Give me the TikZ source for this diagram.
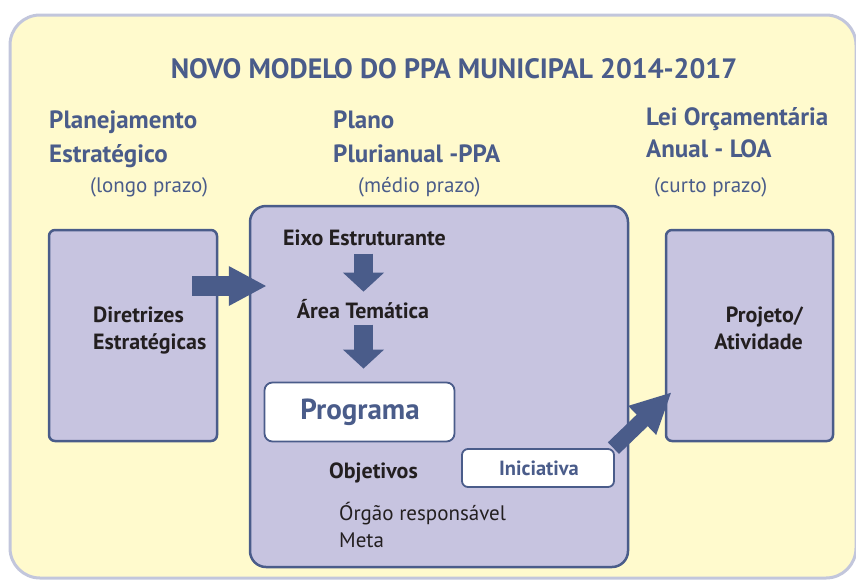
\documentclass[tikz,border=0pt]{standalone}
\usepackage{fontspec}
\setmainfont{PT Sans}
\usetikzlibrary{arrows.meta,calc,positioning}
\definecolor{azul}{HTML}{4A5C8A}
\definecolor{lilas}{HTML}{C7C4E0}
\definecolor{amarelo}{HTML}{FFFACD}
\definecolor{borda}{HTML}{C2C6DC}
\definecolor{preto}{HTML}{231F20}
\tikzstyle{caixa}=[draw=azul, line width=2.5pt, fill=lilas, rounded corners=6pt, inner sep=0pt]
\tikzstyle{caixabranca}=[draw=azul, line width=1.8pt, fill=white, rounded corners=8pt, inner sep=0pt]
\tikzstyle{cabecalho}=[text=azul, font=\bfseries\fontsize{25}{34}\selectfont, align=left, anchor=base west, inner sep=0pt]
\tikzstyle{prazo}=[text=azul, font=\fontsize{21}{24}\selectfont, anchor=base west, inner sep=0pt]
\tikzstyle{item}=[text=preto, font=\bfseries\fontsize{22}{27}\selectfont, anchor=base, inner sep=0pt]
\tikzstyle{setalarga}=[draw=azul, line width=20pt, -{Triangle[width=37pt,length=38pt]}]
\tikzstyle{setabaixo}=[draw=azul, line width=19pt, -{Triangle[width=40pt,length=19pt]}]
\tikzstyle{setadiag}=[draw=azul, line width=16pt, -{Triangle[width=37pt,length=41pt]}]

\begin{document}
\begin{tikzpicture}[x=1pt,y=-1pt]
  \useasboundingbox (0,0) rectangle (856,579);

  % fundo amarelo
  \path[fill=amarelo, draw=borda, line width=3pt, rounded corners=30pt]
    (10,15) rectangle (856,578);

  % titulo e cabecalhos das colunas
  \node (TITULO) [text=azul, font=\bfseries\fontsize{28}{34}\selectfont, anchor=base, inner sep=0pt]
    at (454,78) {NOVO MODELO DO PPA MUNICIPAL 2014-2017};
  \node (PLANEJ) [cabecalho] at (49,128) {Planejamento};
  \node (PLANEJ2) [cabecalho] at (49,162) {Estratégico};
  \node (LONGO) [prazo] at (90,192) {(longo prazo)};
  \node (PLANO) [cabecalho] at (333,128) {Plano};
  \node (PLANO2) [cabecalho] at (333,162) {Plurianual -PPA};
  \node (MEDIO) [prazo] at (358,192) {(médio prazo)};
  \node (LEI) [cabecalho] at (646,125) {Lei Orçamentária};
  \node (LEI2) [cabecalho] at (646,157) {Anual - LOA};
  \node (CURTO) [prazo] at (654,192) {(curto prazo)};

  % caixas das colunas
  \node (DIRETRIZES) [caixa, minimum width=168pt, minimum height=211pt] at (133,335.5) {};
  \node (PPA) [caixa, rounded corners=16pt, minimum width=378pt, minimum height=361pt] at (439,386.5) {};
  \node (LOA) [caixa, minimum width=167pt, minimum height=211pt] at (749.5,335.5) {};

  % textos das caixas laterais
  \node (DIR1) [item, anchor=base west] at (93,322) {Diretrizes};
  \node (DIR2) [item, anchor=base west] at (93,349) {Estratégicas};
  \node (PROJ1) [item, anchor=base east] at (803,322) {Projeto/};
  \node (PROJ2) [item, anchor=base east] at (803,349) {Atividade};

  % conteudo do PPA
  \node (EIXO) [item] at (364.5,245) {Eixo Estruturante};
  \node (AREA) [item] at (363,318) {Área Temática};
  \node (PROGRAMA) [caixabranca, minimum width=190pt, minimum height=59pt] at (359.5,412) {};
  \node (PROGTXT) [text=azul, font=\bfseries\fontsize{29}{34}\selectfont, anchor=base, inner sep=0pt]
    at (360,419) {Programa};
  \node (OBJETIVOS) [item] at (373.5,478) {Objetivos};
  \node (INICIATIVA) [caixabranca, rounded corners=6pt, minimum width=152pt, minimum height=38pt] at (538,468) {};
  \node (INITXT) [text=azul, font=\bfseries\fontsize{20.5}{22}\selectfont, anchor=base, inner sep=0pt]
    at (539,475) {Iniciativa};
  \node (ORGAO) [text=preto, font=\fontsize{21}{27}\selectfont, anchor=base west, inner sep=0pt]
    at (339,520) {Órgão responsável};
  \node (META) [text=preto, font=\fontsize{21}{27}\selectfont, anchor=base west, inner sep=0pt]
    at (339,547) {Meta};

  % setas
  \path [setalarga] ($(DIRETRIZES.east)+(-26,-49.5)$) -- ($(PPA.west)+(18,-100.5)$);
  \path [setabaixo] ($(EIXO.south)+(-1,8)$) -- ($(AREA.north)+(0.5,-7)$);
  \path [setabaixo] ($(AREA.south)+(0.5,6)$) -- ($(PROGRAMA.north)+(4,-13)$);
  \path [setadiag] ($(INICIATIVA.north east)+(-1.5,0)$) -- ($(LOA.west)+(7,56.5)$);

\end{tikzpicture}
\end{document}
